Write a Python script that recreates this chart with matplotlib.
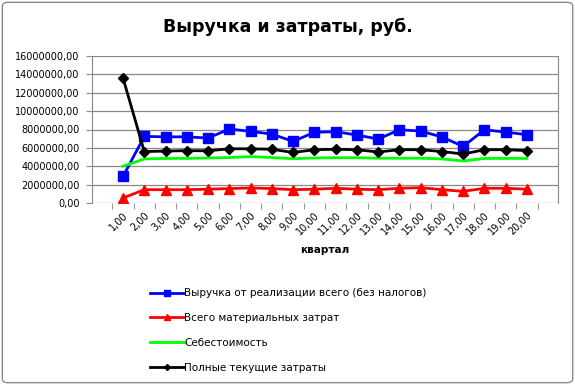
import matplotlib
matplotlib.use('Agg')
import matplotlib.pyplot as plt
import numpy as np
from matplotlib.ticker import FuncFormatter, FixedLocator
from matplotlib.patches import FancyBboxPatch

plt.rcParams['font.family'] = ['DejaVu Sans']

quarters = list(range(1, 21))
quarter_labels = ['{},00'.format(q) for q in quarters]

revenue = [2.9e6, 7.25e6, 7.2e6, 7.2e6, 7.07e6, 8.05e6, 7.8e6, 7.5e6, 6.7e6, 7.7e6,
           7.76e6, 7.4e6, 6.96e6, 7.97e6, 7.83e6, 7.18e6, 6.16e6, 7.97e6, 7.72e6, 7.43e6]
materials = [0.55e6, 1.45e6, 1.45e6, 1.45e6, 1.5e6, 1.57e6, 1.64e6, 1.57e6, 1.45e6, 1.5e6,
             1.6e6, 1.5e6, 1.45e6, 1.6e6, 1.67e6, 1.45e6, 1.27e6, 1.6e6, 1.6e6, 1.5e6]
cost_price = [4.0e6, 4.8e6, 4.85e6, 4.85e6, 4.9e6, 4.95e6, 5.05e6, 4.95e6, 4.82e6, 4.9e6,
              4.93e6, 4.93e6, 4.87e6, 4.87e6, 4.87e6, 4.8e6, 4.57e6, 4.85e6, 4.85e6, 4.85e6]
full_costs = [13.6e6, 5.6e6, 5.65e6, 5.7e6, 5.68e6, 5.9e6, 5.9e6, 5.85e6, 5.5e6, 5.8e6,
              5.85e6, 5.8e6, 5.55e6, 5.8e6, 5.8e6, 5.6e6, 5.33e6, 5.8e6, 5.8e6, 5.7e6]

fig = plt.figure(figsize=(5.75, 3.85), dpi=100)
ax = fig.add_axes([92/575, 1 - 203/385, (558-92)/575, (203-56)/385])

ax.plot(quarters, revenue, color='#0000FF', lw=2, marker='s', ms=7,
        label='Выручка от реализации всего (без налогов)')
ax.plot(quarters, materials, color='#FF0000', lw=2, marker='^', ms=7,
        label='Всего материальных затрат')
ax.plot(quarters, cost_price, color='#00FF00', lw=2,
        label='Себестоимость')
ax.plot(quarters, full_costs, color='black', lw=2, marker='D', ms=5,
        label='Полные текущие затраты')

ax.set_ylim(0, 16e6)
ax.set_yticks(np.arange(0, 16e6 + 1, 2e6))
ax.yaxis.set_major_formatter(FuncFormatter(lambda v, p: '{:.2f}'.format(v).replace('.', ',')))
ax.set_xlim(-0.46, 21.46)
ax.set_xticks(quarters)
ax.set_xticklabels(quarter_labels, rotation=45, ha='right', va='top', rotation_mode='anchor')
ax.xaxis.set_minor_locator(FixedLocator(np.arange(0.5, 21.6, 1)))
ax.tick_params(axis='x', which='major', length=0, labelsize=7, pad=5)
ax.tick_params(axis='x', which='minor', length=4, color='#999999', width=0.8)
ax.tick_params(axis='y', length=4, color='#888888', labelsize=7, pad=5)

ax.grid(axis='y', color='#888888', lw=0.9)
ax.set_axisbelow(True)
for s in ['top', 'bottom']:
    ax.spines[s].set_visible(False)
ax.spines['left'].set_color('#888888')
ax.spines['right'].set_color('#888888')

ax.set_xlabel('квартал', fontsize=7.5, fontweight='bold', labelpad=6)
fig.text(0.5, 1 - 27/385, 'Выручка и затраты, руб.', ha='center', va='center',
         fontsize=12.5, fontweight='bold')

fig.legend(loc='upper left', bbox_to_anchor=(146/575, 1 - 284/385), frameon=False,
           fontsize=7.5, handlelength=3.2, handletextpad=0.05, labelspacing=1.42,
           markerscale=0.6, borderaxespad=0)

border = FancyBboxPatch((0.004, 0.006), 0.992, 0.988, boxstyle='round,pad=0,rounding_size=0.01',
                        transform=fig.transFigure, fill=False, edgecolor='#8c8c8c', lw=1)
fig.patches.append(border)

fig.savefig('out.png', dpi=100)
